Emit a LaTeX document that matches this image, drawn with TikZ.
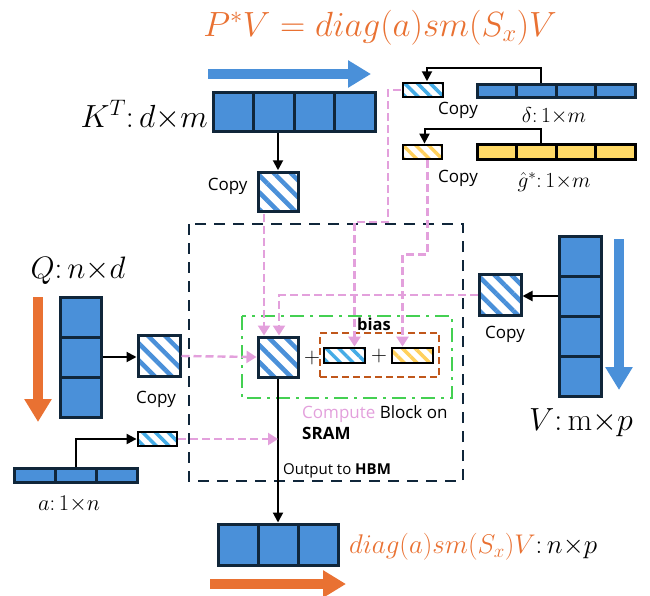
\RequirePackage{fix-cm}
\documentclass[tikz,border=0pt]{standalone}
\usepackage{fontspec}
\setsansfont{Open Sans}
\usetikzlibrary{arrows.meta,patterns.meta,calc}
\definecolor{cblue}{HTML}{4A90D9}
\definecolor{lblue}{HTML}{45ACE6}
\definecolor{navy}{HTML}{10263A}
\definecolor{orng}{HTML}{E97132}
\definecolor{yel}{HTML}{FFD966}
\definecolor{pnk}{HTML}{E3A0DC}
\definecolor{grn}{HTML}{44D052}
\definecolor{brn}{HTML}{C0571B}
\begin{document}
\begin{tikzpicture}[x=1pt,y=-1pt,
  cell/.style={draw=navy, fill=cblue, line width=3pt, inner sep=0pt},
  ycell/.style={draw=black, fill=yel, line width=3pt, inner sep=0pt},
  hatch/.style={draw=navy, line width=3pt, inner sep=0pt, preaction={fill=white},
    pattern={Lines[angle=-45,distance=12pt,line width=4.5pt]}, pattern color=cblue},
  shatch/.style={draw=black, line width=2.8pt, inner sep=0pt, preaction={fill=white},
    pattern={Lines[angle=-45,distance=9pt,line width=3.5pt]}, pattern color=lblue},
  yhatch/.style={shatch, pattern color=yel!90!orange},
  arr/.style={-{Triangle[length=10pt,width=10pt]}, line width=2pt},
  pk/.style={draw=pnk, line width=2.4pt, dash pattern=on 8pt off 4pt, -{Triangle[length=10pt,width=12pt]}},
  bigarrow/.style={line width=10pt, -{Triangle[length=23pt,width=26pt]}},
  copylab/.style={font=\sffamily\fontsize{17}{17}\selectfont},
  mlab/.style={inner sep=0pt},
]
\useasboundingbox (0,0) rectangle (650,595);

% title
\node[mlab, anchor=base, text=orng, font=\fontsize{35}{35}\selectfont] (title) at (380,36) {$P^*V = diag(a)sm(S_x)V$};

% outer dashed box and green compute block
\draw[navy, line width=2.8pt, dash pattern=on 11pt off 8pt] (189,224) rectangle (463,481);
\draw[grn, line width=2.8pt, dash pattern=on 14pt off 6pt on 3pt off 6pt] (242,316) rectangle (452,398);

% K^T
\draw[bigarrow, cblue] (208,74) -- (371,74);
\foreach \i/\x in {1/233.25,2/273.75,3/314.25,4/354.75}
  \node[cell, minimum width=40.5pt, minimum height=39pt] (k\i) at (\x,111.5) {};
\node[mlab, anchor=base east, font=\fontsize{32}{32}\selectfont] (klab) at (208,127) {$K^T\colon d{\times}m$};
\node[hatch, minimum width=40pt, minimum height=39pt] (kcopy) at (278,192) {};
\node[copylab, anchor=east] (kcl) at (251,186) {Copy};
\draw[arr] (k2.south -| kcopy.north) -- (kcopy.north);

% delta
\foreach \i/\x in {1/496.75,2/536.25,3/575.75,4/615.25}
  \node[cell, minimum width=39.5pt, minimum height=13pt] (d\i) at (\x,91) {};
\node[shatch, minimum width=40pt, minimum height=14pt] (dcopy) at (423,90) {};
\node[copylab] (dcl) at (458,110) {Copy};
\node[mlab, anchor=base, font=\fontsize{21.5}{21.5}\selectfont] (dlab) at (554,122) {$\delta\colon 1{\times}m$};
\draw[arr] ([xshift=5pt]d2.north) -- ++(0,-15) -| ([xshift=4pt]dcopy.north);

% g hat
\foreach \i/\x in {1/496.75,2/536.25,3/575.75,4/615.25}
  \node[ycell, minimum width=39.5pt, minimum height=15pt] (g\i) at (\x,151.5) {};
\node[yhatch, minimum width=39pt, minimum height=14pt] (gcopy) at (422.5,152) {};
\node[copylab] (gcl) at (458,178) {Copy};
\node[mlab, anchor=base, font=\fontsize{21.5}{21.5}\selectfont] (glab) at (554,187) {$\hat{g}^*\colon 1{\times}m$};
\draw[arr] ([xshift=5pt]g2.north) -- ++(0,-14) -| ([xshift=2pt]gcopy.north);

% Q
\node[mlab, anchor=base, font=\fontsize{31}{31}\selectfont] (qlab) at (78,278) {$Q\colon n{\times}d$};
\draw[bigarrow, orng] (38,297) -- (38,422);
\foreach \i/\y in {1/317,2/357,3/397}
  \node[cell, minimum width=41pt, minimum height=40pt] (q\i) at (80.5,\y) {};
\node[hatch, minimum width=42pt, minimum height=41pt] (qcopy) at (159,356) {};
\node[copylab] (qcl) at (156,399) {Copy};
\draw[arr] (q2.east) -- (q2.east -| qcopy.west);

% compute square and bias
\node[hatch, minimum width=40pt, minimum height=40pt] (comp) at (278,357) {};
\node[inner sep=0pt, font=\fontsize{22}{22}\selectfont] (plus1) at (312,358) {$+$};
\node[draw=brn, line width=2.6pt, dash pattern=on 7pt off 4pt, minimum width=119pt, minimum height=44pt, inner sep=0pt] (biasbox) at (379.5,355) {};
\node[font=\sffamily\bfseries\fontsize{16.5}{16.5}\selectfont, anchor=base, inner sep=0pt] (biaslab) at (374,330) {bias};
\node[shatch, minimum width=41pt, minimum height=15pt] (bb) at (344.5,355.5) {};
\node[inner sep=0pt, font=\fontsize{22}{22}\selectfont] (plus2) at (379,356) {$+$};
\node[yhatch, minimum width=41pt, minimum height=15pt] (yb) at (412.5,355.5) {};

\node[anchor=base west, inner sep=0pt, font=\sffamily\fontsize{17}{17}\selectfont] (cbl) at (302,418) {\textcolor{pnk}{Compute} Block on};
\node[anchor=base west, inner sep=0pt, font=\sffamily\bfseries\fontsize{17}{17}\selectfont] (sram) at (302,439) {SRAM};
\node[anchor=base west, inner sep=0pt, font=\sffamily\fontsize{15}{15}\selectfont] (outl) at (283,474) {Output to \textbf{HBM}};

% V
\foreach \i/\y in {1/256,2/296,3/336,4/376}
  \node[cell, minimum width=42pt, minimum height=40pt] (v\i) at (580,\y) {};
\draw[bigarrow, cblue] (619,239) -- (619,390);
\node[hatch, minimum width=42pt, minimum height=41pt] (vcopy) at (500,295) {};
\node[copylab] (vcl) at (505,334) {Copy};
\node[mlab, anchor=base, font=\fontsize{32}{32}\selectfont] (vlab) at (581,430) {$V\colon \mathrm{m}{\times}p$};
\draw[arr] (v2.west) -- (v2.west -| vcopy.east);

% a
\foreach \i/\x in {1/35.3,2/76,3/116.7}
  \node[cell, minimum width=40.7pt, minimum height=14pt] (a\i) at (\x,475) {};
\node[shatch, minimum width=39pt, minimum height=14pt] (acopy) at (157.5,439) {};
\node[mlab, anchor=base, font=\fontsize{22.5}{22.5}\selectfont] (alab) at (69,510) {$a\colon 1{\times}n$};
\draw[arr] (a2.north) |- (acopy.west);

% output
\foreach \i/\x in {1/238,2/278,3/318}
  \node[cell, minimum width=40pt, minimum height=41pt] (o\i) at (\x,544.5) {};
\node[mlab, anchor=base west, font=\fontsize{27}{27}\selectfont] (olab) at (349,553) {${\color{orng}diag(a)sm(S_x)V}\colon n{\times}p$};
\draw[bigarrow, orng] (210,584) -- (346,584);
\draw[arr] (comp.south) -- (o2.north);

% pink data flows
\draw[pk] ([xshift=-14pt]kcopy.south) -- ([xshift=-14pt]comp.north);
\draw[pk] (vcopy.west) -| ([xshift=1pt]comp.north);
\draw[pk] (dcopy.west) -- ++(-13,0) -- ++(0,132) -| ([xshift=10pt]bb.north);
\draw[pk] ([xshift=5pt]gcopy.south) -- ++(0,94) -| ([xshift=-10pt]yb.north);
\draw[pk] (qcopy.east) -- (comp.west);
\draw[pk] (acopy.east) -- (acopy.east -| comp.south);
\end{tikzpicture}
\end{document}
